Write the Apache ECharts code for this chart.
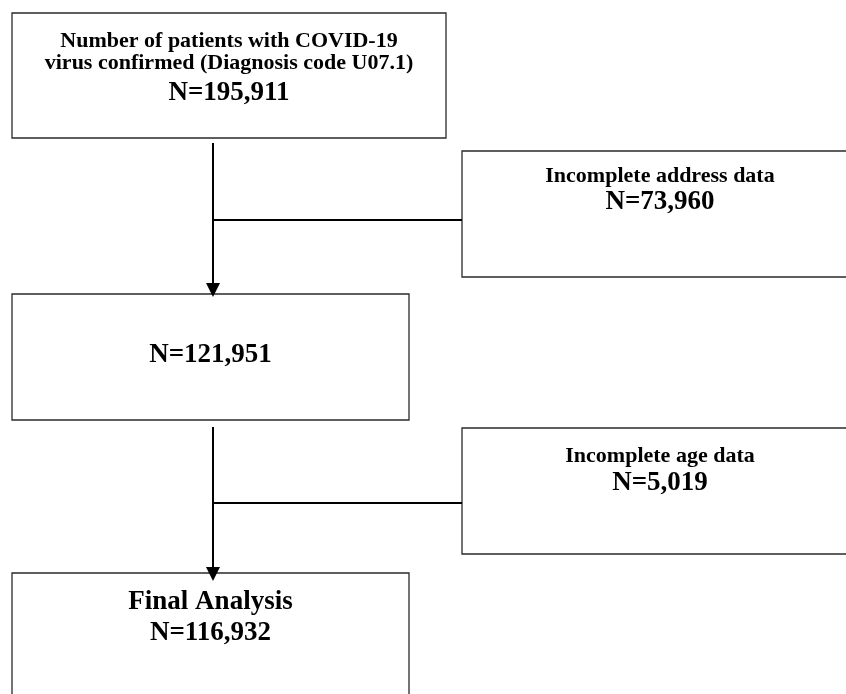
<!DOCTYPE html>
<html><head><meta charset="utf-8">
<script src="https://cdn.jsdelivr.net/npm/echarts@6/dist/echarts.min.js"></script>
<style>html,body{margin:0;padding:0;background:#fff}#c{width:846px;height:694px}</style>
</head><body><div id="c"></div>
<script>
// ---- data ----
const stepTitles = [
  ['Number of patients with COVID-19', 'virus confirmed (Diagnosis code U07.1)'],
  ['Incomplete address data'],
  [],
  ['Incomplete age data'],
  ['Final Analysis']
];
const stepCounts = [195911, 73960, 121951, 5019, 116932];
// flow: [from step, to step, excluded step]
const flowLinks = [[0, 2, 1], [2, 4, 3]];

// ---- layout (pixel space of the 846x694 canvas) ----
const boxRects = [[12, 13, 446, 138], [462, 151, 858, 277], [12, 294, 409, 420], [462, 428, 858, 554], [12, 573, 409, 720]];
const textRows = [[41, 63, 93], [176, 202.5], [355.5], [456.5, 483.5], [602, 633.5]];
const titleSizes = [22, 22, 22, 22, 27];
const countSize = 27;
const trunkX = 213;
const trunkSpans = [[143, 297], [427, 581]];
const branchY = [220, 503];

const fmt = n => n.toLocaleString('en-US');
const FONT = 'Liberation Serif, Times New Roman, serif';

const chart = echarts.init(document.getElementById('c'), null, {renderer: 'canvas'});

const boxData = boxRects.map((r, i) => [r[0], r[1], r[2], r[3], i]);
const linkData = flowLinks.map((l, i) => [i, l[0], l[1], l[2]]);

chart.setOption({
  animation: false,
  backgroundColor: '#fff',
  grid: {left: 0, right: 0, top: 0, bottom: 0},
  xAxis: {type: 'value', min: 0, max: 846, show: false},
  yAxis: {type: 'value', min: 0, max: 694, inverse: true, show: false},
  series: [
    {
      type: 'custom',
      clip: false,
      data: boxData,
      renderItem: function (params, api) {
        const i = api.value(4);
        const p0 = api.coord([api.value(0), api.value(1)]);
        const p1 = api.coord([api.value(2), api.value(3)]);
        const cx = (p0[0] + p1[0]) / 2;
        const rows = textRows[i];
        const lines = stepTitles[i];
        const children = [{
          type: 'rect',
          shape: {x: p0[0], y: p0[1], width: p1[0] - p0[0], height: p1[1] - p0[1]},
          style: {fill: '#fff', stroke: '#2a2a2a', lineWidth: 1.3}
        }];
        lines.forEach((t, k) => {
          const y = api.coord([0, rows[k]])[1];
          children.push({type: 'text', style: {text: t, x: cx, y: y, align: 'center', verticalAlign: 'middle',
            font: 'bold ' + titleSizes[i] + 'px ' + FONT, fill: '#000'}});
        });
        const yN = api.coord([0, rows[lines.length]])[1];
        children.push({type: 'text', style: {text: 'N=' + fmt(stepCounts[i]), x: cx, y: yN, align: 'center', verticalAlign: 'middle',
          font: 'bold ' + countSize + 'px ' + FONT, fill: '#000'}});
        return {type: 'group', children: children};
      }
    },
    {
      type: 'custom',
      clip: false,
      data: linkData,
      renderItem: function (params, api) {
        const i = api.value(0);
        const ex = boxRects[api.value(3)];
        const top = api.coord([trunkX, trunkSpans[i][0]]);
        const tip = api.coord([trunkX, trunkSpans[i][1]]);
        const b0 = api.coord([trunkX, branchY[i]]);
        const b1 = api.coord([ex[0], branchY[i]]);
        const ah = 14, aw = 7;
        return {type: 'group', children: [
          {type: 'line', shape: {x1: top[0], y1: top[1], x2: tip[0], y2: tip[1] - ah + 1}, style: {stroke: '#000', lineWidth: 2}},
          {type: 'line', shape: {x1: b0[0], y1: b0[1], x2: b1[0], y2: b1[1]}, style: {stroke: '#000', lineWidth: 2}},
          {type: 'polygon', shape: {points: [[tip[0] - aw, tip[1] - ah], [tip[0] + aw, tip[1] - ah], [tip[0], tip[1]]]}, style: {fill: '#000'}}
        ]};
      }
    }
  ]
});
</script>
</body></html>
